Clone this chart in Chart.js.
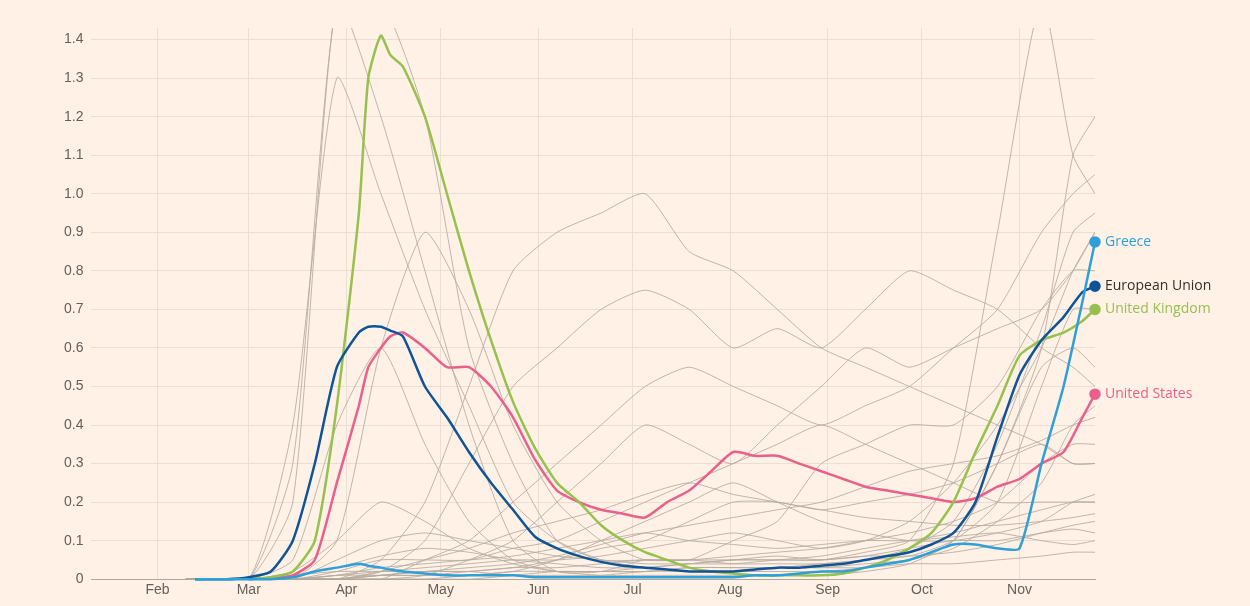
<!DOCTYPE html>
<html>
<head>
<meta charset="utf-8">
<script src="https://cdn.jsdelivr.net/npm/chart.js@4"></script>
<style>
  body { margin: 0; background: #fff1e5; }
  #wrap { width: 1250px; height: 606px; }
</style>
</head>
<body>
<div id="wrap"><canvas id="myChart"></canvas></div>
<script>
// day numbers counted from Jan 1 2020
const monthDays = [31, 60, 91, 121, 152, 182, 213, 244, 274, 305];
const monthNames = ['Feb', 'Mar', 'Apr', 'May', 'Jun', 'Jul', 'Aug', 'Sep', 'Oct', 'Nov'];
const yTicks = [0, 0.1, 0.2, 0.3, 0.4, 0.5, 0.6, 0.7, 0.8, 0.9, 1.0, 1.1, 1.2, 1.3, 1.4];

const weekDays = [43, 53, 60, 67, 74, 81, 88, 95, 98, 102, 105, 109, 116, 123, 130, 137, 144, 151, 158, 165, 172, 179,
  186, 193, 200, 207, 214, 221, 228, 235, 242, 249, 256, 263, 270, 277, 284, 291, 298, 305, 312, 319, 325, 329];

const euValues = [0, 0, 0.005, 0.02, 0.1, 0.3, 0.55, 0.64, 0.655, 0.655, 0.645, 0.63, 0.5, 0.42, 0.33, 0.25, 0.18, 0.11, 0.08, 0.06, 0.045, 0.035,
  0.03, 0.025, 0.02, 0.02, 0.02, 0.025, 0.03, 0.03, 0.035, 0.04, 0.05, 0.06, 0.07, 0.09, 0.12, 0.2, 0.37, 0.53, 0.62, 0.68, 0.745, 0.76];
const greeceValues = [0, 0, 0, 0, 0.005, 0.02, 0.03, 0.04, 0.035, 0.03, 0.025, 0.02, 0.015, 0.01, 0.01, 0.01, 0.01, 0.005, 0.005, 0.005, 0.005, 0.005,
  0.005, 0.005, 0.005, 0.005, 0.005, 0.01, 0.01, 0.015, 0.02, 0.02, 0.03, 0.04, 0.05, 0.07, 0.09, 0.09, 0.08, 0.08, 0.3, 0.5, 0.72, 0.875];
const ukValues = [null, null, 0, 0.005, 0.02, 0.1, 0.45, 0.95, 1.3, 1.41, 1.36, 1.33, 1.2, 1.0, 0.8, 0.62, 0.46, 0.34, 0.25, 0.2, 0.14, 0.1,
  0.07, 0.05, 0.03, 0.02, 0.015, 0.01, 0.01, 0.01, 0.01, 0.015, 0.03, 0.05, 0.08, 0.12, 0.2, 0.33, 0.45, 0.58, 0.62, 0.64, 0.67, 0.70];
const usValues = [null, null, 0, 0.003, 0.01, 0.05, 0.25, 0.45, 0.55, 0.6, 0.63, 0.64, 0.6, 0.55, 0.55, 0.5, 0.42, 0.31, 0.23, 0.2, 0.18, 0.17,
  0.16, 0.2, 0.23, 0.28, 0.33, 0.32, 0.32, 0.3, 0.28, 0.26, 0.24, 0.23, 0.22, 0.21, 0.2, 0.21, 0.24, 0.26, 0.3, 0.33, 0.42, 0.48];

const grayDays = [40, 60, 74, 88, 102, 116, 130, 144, 158, 172, 186, 200, 214, 228, 242, 256, 270, 284, 298, 312, 322, 329];
const grayValues = [
  [0, 0, 0.3, 1.5, 1.5, 1.2, 0.6, 0.3, 0.1, 0.05, 0.05, 0.05, 0.05, 0.05, 0.05, 0.07, 0.1, 0.3, 0.9, 1.5, 1.1, 1.0],
  [0, 0, 0.2, 1.5, 1.2, 0.8, 0.4, 0.1, 0.02, 0.02, 0.05, 0.05, 0.1, 0.15, 0.3, 0.35, 0.4, 0.4, 0.5, 0.7, 0.8, 0.8],
  [0, 0, 0.4, 1.3, 1.0, 0.7, 0.45, 0.2, 0.1, 0.05, 0.03, 0.02, 0.02, 0.02, 0.02, 0.03, 0.05, 0.1, 0.3, 0.6, 1.1, 1.2],
  [0, 0, 0, 0, 0.05, 0.2, 0.5, 0.8, 0.9, 0.95, 1.0, 0.85, 0.8, 0.7, 0.6, 0.55, 0.5, 0.45, 0.4, 0.35, 0.3, 0.3],
  [0, 0, 0, 0, 0.02, 0.1, 0.3, 0.5, 0.6, 0.7, 0.75, 0.7, 0.6, 0.65, 0.6, 0.7, 0.8, 0.75, 0.7, 0.6, 0.55, 0.5],
  [0, 0, 0, 0, 0, 0.05, 0.1, 0.2, 0.3, 0.4, 0.5, 0.55, 0.5, 0.45, 0.4, 0.45, 0.5, 0.6, 0.7, 0.9, 1.0, 1.05],
  [0, 0, 0, 0.02, 0.05, 0.05, 0.05, 0.08, 0.1, 0.15, 0.2, 0.25, 0.3, 0.35, 0.4, 0.35, 0.3, 0.25, 0.2, 0.2, 0.2, 0.2],
  [0, 0, 0, 0.01, 0.02, 0.03, 0.04, 0.05, 0.05, 0.06, 0.08, 0.1, 0.12, 0.1, 0.08, 0.1, 0.15, 0.25, 0.4, 0.6, 0.8, 0.9],
  [0, 0, 0, 0, 0.01, 0.02, 0.02, 0.03, 0.03, 0.04, 0.05, 0.05, 0.06, 0.07, 0.08, 0.1, 0.12, 0.15, 0.2, 0.3, 0.35, 0.35],
  [0, 0, 0, 0, 0, 0, 0.01, 0.02, 0.05, 0.1, 0.15, 0.2, 0.25, 0.2, 0.15, 0.12, 0.1, 0.1, 0.12, 0.15, 0.2, 0.22],
  [0, 0, 0.01, 0.02, 0.02, 0.02, 0.02, 0.01, 0.01, 0.01, 0.02, 0.02, 0.02, 0.03, 0.03, 0.04, 0.05, 0.08, 0.15, 0.25, 0.4, 0.45],
  [0, 0, 0, 0.1, 0.6, 0.9, 0.7, 0.4, 0.2, 0.1, 0.05, 0.05, 0.04, 0.04, 0.04, 0.05, 0.06, 0.1, 0.2, 0.5, 0.7, 0.7],
  [0, 0, 0, 0, 0, 0.01, 0.05, 0.1, 0.2, 0.3, 0.4, 0.35, 0.3, 0.4, 0.5, 0.6, 0.55, 0.6, 0.65, 0.7, 0.8, 0.9],
  [0, 0, 0, 0, 0.01, 0.01, 0.02, 0.03, 0.05, 0.08, 0.1, 0.15, 0.2, 0.2, 0.18, 0.2, 0.22, 0.25, 0.3, 0.35, 0.3, 0.3],
  [0, 0, 0, 0, 0, 0, 0, 0.01, 0.02, 0.02, 0.03, 0.04, 0.05, 0.05, 0.05, 0.06, 0.06, 0.07, 0.09, 0.12, 0.14, 0.15],
  [0, 0, 0.05, 0.4, 0.6, 0.35, 0.15, 0.05, 0.02, 0.01, 0.01, 0.01, 0.01, 0.01, 0.01, 0.02, 0.04, 0.1, 0.3, 0.55, 0.6, 0.55],
  [0, 0, 0, 0.05, 0.1, 0.12, 0.1, 0.08, 0.06, 0.05, 0.04, 0.04, 0.04, 0.05, 0.06, 0.08, 0.1, 0.12, 0.15, 0.18, 0.2, 0.2],
  [0, 0, 0, 0, 0.02, 0.05, 0.08, 0.12, 0.15, 0.18, 0.22, 0.25, 0.22, 0.2, 0.18, 0.16, 0.15, 0.14, 0.14, 0.15, 0.16, 0.17],
  [0, 0, 0.01, 0.03, 0.06, 0.08, 0.07, 0.05, 0.04, 0.03, 0.03, 0.04, 0.05, 0.06, 0.05, 0.06, 0.08, 0.1, 0.1, 0.12, 0.13, 0.12],
  [0, 0, 0, 0.01, 0.03, 0.04, 0.05, 0.06, 0.08, 0.1, 0.12, 0.1, 0.09, 0.08, 0.09, 0.1, 0.1, 0.11, 0.12, 0.1, 0.09, 0.1],
  [0, 0, 0.02, 0.1, 0.2, 0.15, 0.08, 0.04, 0.02, 0.02, 0.02, 0.03, 0.03, 0.03, 0.04, 0.05, 0.08, 0.15, 0.35, 0.65, 0.9, 0.95],
  [0, 0, 0, 0, 0.01, 0.02, 0.03, 0.04, 0.06, 0.09, 0.12, 0.14, 0.16, 0.18, 0.2, 0.24, 0.28, 0.3, 0.32, 0.36, 0.4, 0.42],
  [0, 0, 0, 0.01, 0.01, 0.01, 0.01, 0.02, 0.02, 0.02, 0.02, 0.03, 0.03, 0.03, 0.03, 0.03, 0.04, 0.04, 0.05, 0.06, 0.07, 0.07]
];

function pts(days, vals) {
  return days.map((d, i) => ({ x: d, y: vals[i] }));
}
function main(label, vals, color) {
  return {
    label: label, data: pts(weekDays, vals), borderColor: color, backgroundColor: color,
    borderWidth: 2.5, tension: 0.2, labelColor: color, clip: false,
    pointRadius: c => c.dataIndex === vals.length - 1 ? 4.5 : 0
  };
}

const datasets = [
  main('Greece', greeceValues, '#2e9fd8'),
  main('European Union', euValues, '#0f5499'),
  main('United Kingdom', ukValues, '#96c14e'),
  main('United States', usValues, '#ea5f8b')
];
datasets[1].labelColor = '#33302e';
grayValues.forEach((v, i) => datasets.push({
  label: 'g' + i, data: pts(grayDays, v), borderColor: 'rgba(180,170,160,0.85)',
  borderWidth: 1, pointRadius: 0, tension: 0.2
}));

const endLabels = {
  id: 'endLabels',
  afterDatasetsDraw(chart) {
    const ctx = chart.ctx;
    ctx.save();
    ctx.font = '14px "Open Sans", sans-serif';
    ctx.textBaseline = 'middle';
    for (let i = 0; i < 4; i++) {
      const meta = chart.getDatasetMeta(i);
      const p = meta.data[meta.data.length - 1];
      ctx.fillStyle = chart.data.datasets[i].labelColor;
      ctx.fillText(chart.data.datasets[i].label, p.x + 10, p.y);
    }
    ctx.restore();
  }
};

new Chart(document.getElementById('myChart'), {
  type: 'line',
  data: { datasets: datasets },
  plugins: [endLabels],
  options: {
    responsive: true, maintainAspectRatio: false, animation: false,
    layout: { padding: { top: 28, right: 155, left: 56, bottom: 4 } },
    plugins: { legend: { display: false }, tooltip: { enabled: false } },
    scales: {
      x: {
        type: 'linear', min: 10, max: 329,
        afterBuildTicks: s => { s.ticks = monthDays.map(v => ({ value: v })); },
        ticks: { callback: (v, i) => monthNames[i], color: '#66605c', font: { size: 14 }, maxRotation: 0 },
        grid: { color: '#eadfd4', drawTicks: false },
        border: { color: '#b0a69c' }
      },
      y: {
        min: 0, max: 1.43,
        afterBuildTicks: s => { s.ticks = yTicks.map(v => ({ value: v })); },
        ticks: { callback: v => v === 0 ? '0' : v.toFixed(1), color: '#66605c', font: { size: 14 }, padding: 8 },
        grid: { color: '#eadfd4', drawTicks: false },
        border: { display: false }
      }
    }
  }
});
</script>
</body>
</html>
